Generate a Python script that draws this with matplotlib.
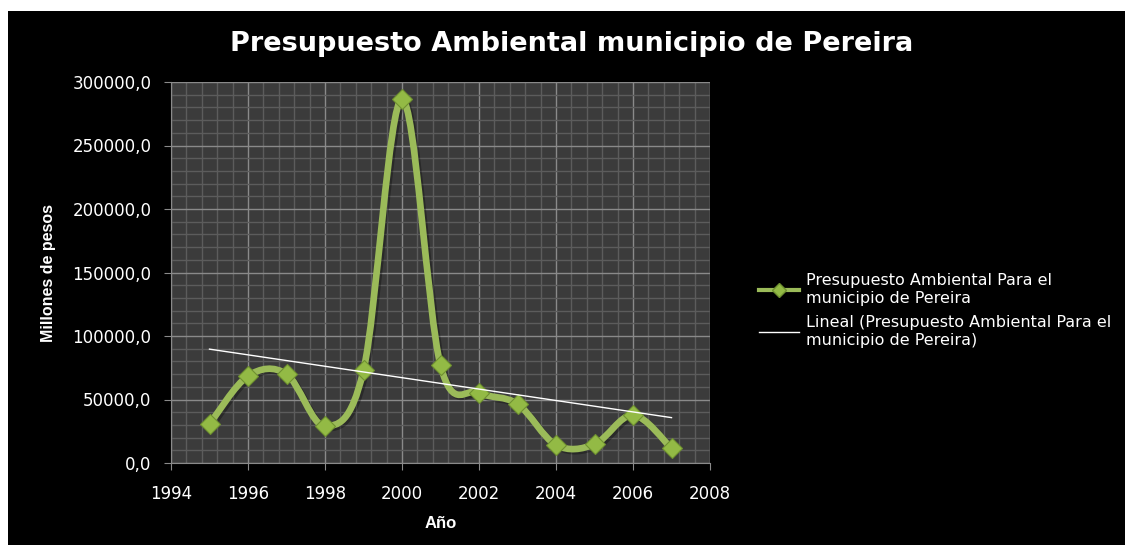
import numpy as np
import matplotlib
matplotlib.use('Agg')
import matplotlib.pyplot as plt
import matplotlib.ticker as ticker
import matplotlib.patheffects as pe
from matplotlib.path import Path
from matplotlib.patches import PathPatch, Rectangle
from matplotlib.lines import Line2D

# Data (millones de pesos)
years = np.array([1995, 1996, 1997, 1998, 1999, 2000, 2001, 2002, 2003, 2004, 2005, 2006, 2007])
budget = np.array([30700, 68500, 70000, 29000, 73000, 286600, 77000,
                   55400, 46500, 14200, 14700, 37800, 11600])

series_label = "Presupuesto Ambiental Para el\nmunicipio de Pereira"
trend_label = "Lineal (Presupuesto Ambiental Para el\nmunicipio de Pereira)"

green = '#9BBB59'

plt.rcParams['font.family'] = 'DejaVu Sans'

fig = plt.figure(figsize=(11.25, 5.45), dpi=100, facecolor='white')
fig.patches.append(Rectangle((8/1125, 0), 1 - 8/1125, 1 - 11/545, transform=fig.transFigure,
                             facecolor='black', edgecolor='none', zorder=-10))

ax = fig.add_axes([171/1125, 82/545, 539/1125, 381/545])
ax.set_facecolor('#3b3b3b')

# smoothed line (Excel style bezier through the points)
pts = np.column_stack([years, budget]).astype(float)
ext = np.vstack([pts[0], pts, pts[-1]])
verts = [tuple(pts[0])]
codes = [Path.MOVETO]
for i in range(len(pts) - 1):
    p0, p1, p2, p3 = ext[i], ext[i + 1], ext[i + 2], ext[i + 3]
    c1 = p1 + (p2 - p0) / 6
    c2 = p2 - (p3 - p1) / 6
    verts += [tuple(c1), tuple(c2), tuple(p2)]
    codes += [Path.CURVE4] * 3
curve = PathPatch(Path(verts, codes), facecolor='none', edgecolor=green, lw=4.8,
                  capstyle='round', joinstyle='round', zorder=3,
                  path_effects=[pe.SimpleLineShadow(offset=(1.5, -1.5), shadow_color='black', alpha=0.3),
                                pe.Normal()])
ax.add_patch(curve)
ax.plot(years, budget, linestyle='none', marker='D', markersize=10,
        markerfacecolor='#93BA45', markeredgecolor='#6F9130', markeredgewidth=0.8, zorder=4)

# linear trend
coef = np.polyfit(years, budget, 1)
ax.plot(years[[0, -1]], np.polyval(coef, years[[0, -1]]), color='white', lw=1.0, zorder=5)

ax.set_xlim(1994, 2008)
ax.set_ylim(0, 300000)
ax.xaxis.set_major_locator(ticker.MultipleLocator(2))
ax.xaxis.set_minor_locator(ticker.MultipleLocator(0.4))
ax.yaxis.set_major_locator(ticker.MultipleLocator(50000))
ax.yaxis.set_minor_locator(ticker.MultipleLocator(10000))
ax.yaxis.set_major_formatter(ticker.FuncFormatter(lambda v, p: f"{v:.1f}".replace('.', ',')))
ax.grid(which='major', color='#8a8a8a', lw=1.0, zorder=0)
ax.grid(which='minor', color='#5c5c5c', lw=1.0, zorder=0)
ax.set_axisbelow(True)
ax.tick_params(which='major', direction='out', length=5, color='#8a8a8a', labelcolor='white',
               labelsize=12, pad=9)
ax.tick_params(axis='x', which='major', pad=11)
ax.tick_params(which='minor', length=0)
for s in ax.spines.values():
    s.set_visible(False)
for s in ['left', 'bottom']:
    ax.spines[s].set_visible(True)
    ax.spines[s].set_color('#8a8a8a')

ax.set_xlabel("Año", color='white', fontsize=12, fontweight='bold', labelpad=9,
              family='Liberation Sans')
ax.set_ylabel("Millones de pesos", color='white', fontsize=11.5, fontweight='bold', labelpad=12,
              family='Liberation Sans')

fig.text(572/1125, 1 - 44/545, "Presupuesto Ambiental municipio de Pereira", color='white',
         fontsize=19.5, fontweight='bold', ha='center', va='center')

handles = [Line2D([], [], color=green, lw=3, marker='D', markersize=7,
                  markerfacecolor='#93BA45', markeredgecolor='#6F9130'),
           Line2D([], [], color='white', lw=1)]
leg = fig.legend(handles, [series_label, trend_label], loc='upper left',
                 bbox_to_anchor=(745/1125, 1 - 259/545), frameon=False, fontsize=11.5,
                 handlelength=2.5, handletextpad=0.4, labelspacing=0.6)
for t in leg.get_texts():
    t.set_color('white')

fig.savefig('out.png', dpi=100, facecolor=fig.get_facecolor())
